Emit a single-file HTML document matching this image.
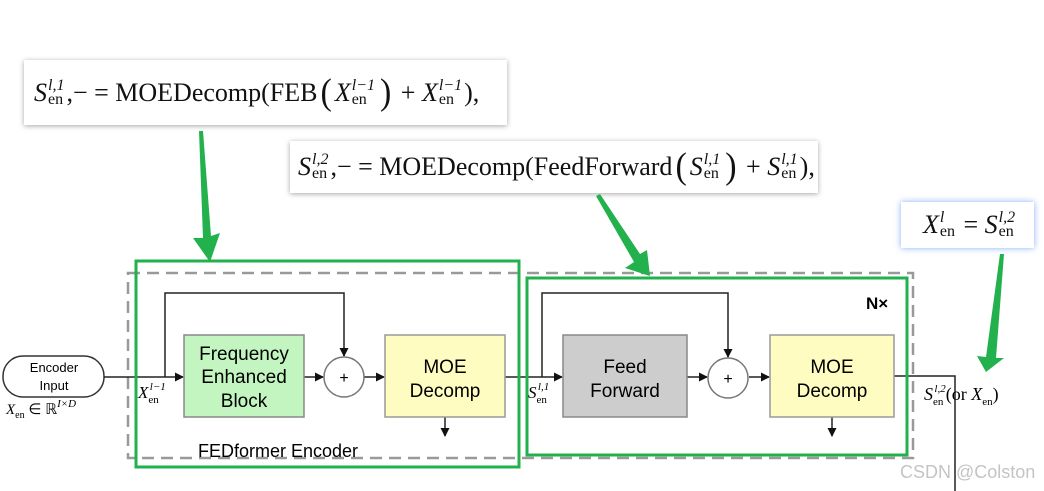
<!DOCTYPE html>
<html><head><meta charset="utf-8"><style>
body{margin:0;width:1044px;height:491px;background:#fff;overflow:hidden;position:relative;font-family:"Liberation Sans",sans-serif}
.fb{position:absolute;background:#fff;box-shadow:0 1px 5px rgba(0,0,0,.35);font-family:"Liberation Serif",serif;font-size:26px;color:#111;white-space:nowrap;display:flex;align-items:center}
.m{font-style:italic}
.ss{display:inline-flex;flex-direction:column;font-size:16px;line-height:14px;vertical-align:middle;margin:0 2px 0 1px}
.ss .t{font-style:italic}
.p{font-size:34px;transform:scaleY(1.1);display:inline-block;margin:0 3px}
</style></head><body>
<div class="fb" style="left:24px;top:60px;width:483px;height:65px;padding-left:10px;box-sizing:border-box">
<span class="m">S</span><span class="ss"><span class="t">l,1</span><span>en</span></span>,− = MOEDecomp(FEB <span class="p">(</span><span class="m">X</span><span class="ss"><span class="t">l−1</span><span>en</span></span><span class="p">)</span>&nbsp;+ <span class="m">&nbsp;X</span><span class="ss"><span class="t">l−1</span><span>en</span></span>),</div>
<div class="fb" style="left:290px;top:141px;width:528px;height:52px;padding-left:8px;box-sizing:border-box">
<span class="m">S</span><span class="ss"><span class="t">l,2</span><span>en</span></span>,− = MOEDecomp(FeedForward <span class="p">(</span><span class="m">S</span><span class="ss"><span class="t">l,1</span><span>en</span></span><span class="p">)</span>&nbsp;+ <span class="m">&nbsp;S</span><span class="ss"><span class="t">l,1</span><span>en</span></span>),</div>
<div class="fb" style="left:901px;top:202px;width:133px;height:46px;padding-left:22px;box-sizing:border-box;box-shadow:0 0 6px rgba(80,140,255,.7)">
<span class="m">X</span><span class="ss"><span class="t">l</span><span>en</span></span>&nbsp;= <span class="m">&nbsp;S</span><span class="ss"><span class="t">l,2</span><span>en</span></span></div>
<svg width="1044" height="491" style="position:absolute;left:0;top:0" font-family="Liberation Sans, sans-serif">
<defs><marker id="a" markerWidth="9" markerHeight="9" refX="8" refY="4.5" orient="auto" markerUnits="userSpaceOnUse"><path d="M0,0L9,4.5L0,9z" fill="#111"/></marker></defs>
<rect x="128" y="273" width="785" height="185" fill="none" stroke="#999" stroke-width="2.5" stroke-dasharray="12,7"/>
<rect x="3" y="356" width="101" height="41" rx="20" fill="#fff" stroke="#333" stroke-width="1.5"/>
<text x="54" y="372" font-size="13" text-anchor="middle">Encoder</text>
<text x="54" y="390" font-size="13" text-anchor="middle">Input</text>
<text x="6" y="414" font-size="15" font-family="Liberation Serif"><tspan font-style="italic">X</tspan><tspan font-size="10" dy="4">en</tspan><tspan dy="-4"> ∈ ℝ</tspan><tspan font-size="11" dy="-7" font-style="italic">I×D</tspan></text>
<g stroke="#222" stroke-width="1.5" fill="none">
<line x1="104" y1="377" x2="183" y2="377" marker-end="url(#a)"/>
<polyline points="165,377 165,293 344,293 344,356" marker-end="url(#a)"/>
<line x1="304" y1="377" x2="323" y2="377" marker-end="url(#a)"/>
<line x1="364" y1="377" x2="384" y2="377" marker-end="url(#a)"/>
<line x1="505" y1="377" x2="562" y2="377" marker-end="url(#a)"/>
<polyline points="542,377 542,293 728,293 728,357" marker-end="url(#a)"/>
<line x1="687" y1="377" x2="707" y2="377" marker-end="url(#a)"/>
<line x1="749" y1="377" x2="769" y2="377" marker-end="url(#a)"/>
<polyline points="894,376 955,376 955,491"/>
<line x1="445" y1="417" x2="445" y2="436" marker-end="url(#a)"/>
<line x1="832" y1="417" x2="832" y2="436" marker-end="url(#a)"/>
</g>
<rect x="184" y="335" width="120" height="82" fill="#c2f5c0" stroke="#888" stroke-width="1.5"/>
<text x="244" y="360" font-size="19" text-anchor="middle">Frequency</text>
<text x="244" y="383" font-size="19" text-anchor="middle">Enhanced</text>
<text x="244" y="407" font-size="19" text-anchor="middle">Block</text>
<circle cx="344" cy="377" r="20" fill="#fff" stroke="#777" stroke-width="1.5"/>
<text x="344" y="383" font-size="16" text-anchor="middle">+</text>
<rect x="385" y="335" width="120" height="82" fill="#fefcc0" stroke="#999" stroke-width="1.5"/>
<text x="445" y="373" font-size="19" text-anchor="middle">MOE</text>
<text x="445" y="397" font-size="19" text-anchor="middle">Decomp</text>
<rect x="563" y="335" width="124" height="82" fill="#cdcdcd" stroke="#888" stroke-width="1.5"/>
<text x="625" y="373" font-size="19" text-anchor="middle">Feed</text>
<text x="625" y="397" font-size="19" text-anchor="middle">Forward</text>
<circle cx="728" cy="378" r="20" fill="#fff" stroke="#777" stroke-width="1.5"/>
<text x="728" y="384" font-size="16" text-anchor="middle">+</text>
<rect x="770" y="335" width="124" height="82" fill="#fefcc0" stroke="#999" stroke-width="1.5"/>
<text x="832" y="373" font-size="19" text-anchor="middle">MOE</text>
<text x="832" y="397" font-size="19" text-anchor="middle">Decomp</text>
<text x="866" y="309" font-size="17" font-weight="bold">N×</text>
<text x="198" y="457" font-size="18">FEDformer Encoder</text>
<text x="138" y="398" font-size="17" font-family="Liberation Serif"><tspan font-style="italic">X</tspan><tspan font-size="11" dy="5">en</tspan><tspan font-size="11" dy="-13" dx="-9" font-style="italic">l−1</tspan></text>
<text x="528" y="398" font-size="17" font-family="Liberation Serif"><tspan font-style="italic">S</tspan><tspan font-size="11" dy="5">en</tspan><tspan font-size="11" dy="-13" dx="-9" font-style="italic">l,1</tspan></text>
<text x="924" y="400" font-size="18" font-family="Liberation Serif"><tspan font-style="italic">S</tspan><tspan font-size="11" dy="5">en</tspan><tspan font-size="11" dy="-13" dx="-9" font-style="italic">l,2</tspan><tspan dy="8">(or </tspan><tspan font-style="italic">X</tspan><tspan font-size="11" dy="5">en</tspan><tspan dy="-5">)</tspan></text>
<text x="900" y="478" font-size="18" fill="#c4c4c4">CSDN @Colston</text>
<rect x="136" y="261" width="383" height="206" fill="none" stroke="#22b14c" stroke-width="3"/>
<rect x="527" y="278" width="380" height="177" fill="none" stroke="#22b14c" stroke-width="3"/>
<g fill="#22b14c">
<polygon points="199,131 203,131 211,236 220,233 210,262 193,238 203,238"/>
<polygon points="596,196 600,194 640,254 647,250 650,276 625,268 634,262"/>
<polygon points="1000,254 1004,254 996,358 1004,358 986,372 977,356 986,357"/>
</g>
</svg>
</body></html>
